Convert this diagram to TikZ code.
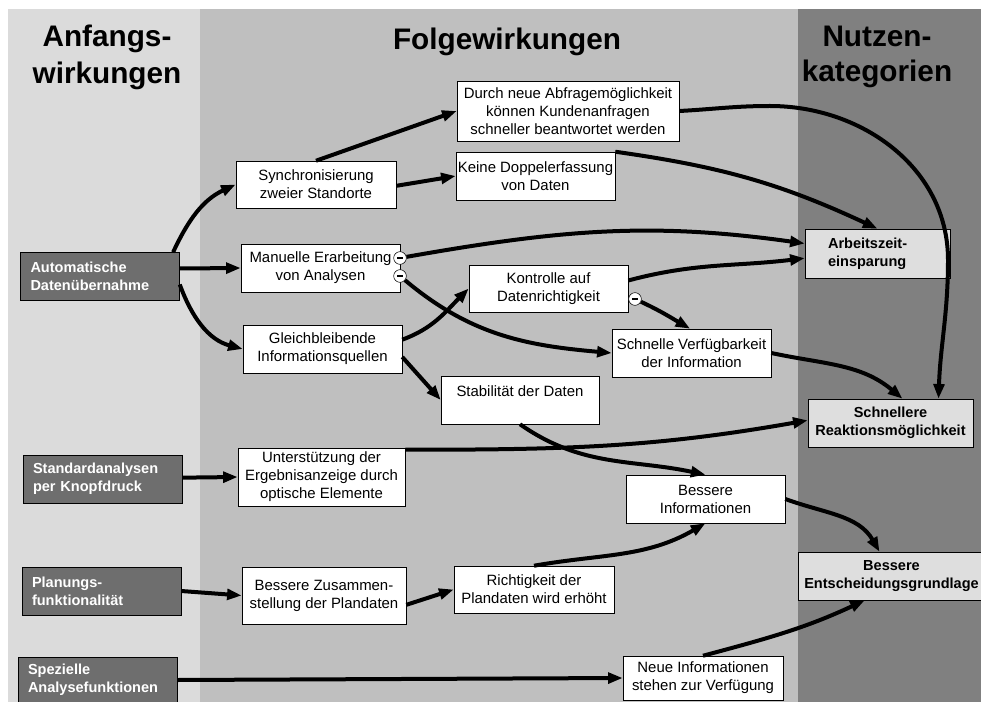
\documentclass[tikz,border=0pt]{standalone}
\usepackage{fontspec}
\setmainfont{Liberation Sans}
\usetikzlibrary{arrows.meta}
\definecolor{leftcol}{gray}{0.86}
\definecolor{midcol}{gray}{0.75}
\definecolor{rightcol}{gray}{0.5}
\definecolor{startbox}{gray}{0.43}
\definecolor{goalbox}{gray}{0.87}

\begin{document}
\begin{tikzpicture}[
  x=0.75pt, y=0.75pt,
  every node/.append style={font=\fontsize{11.2}{13.5}\selectfont},
  arr/.style={line width=3pt, -{Triangle[length=11pt,width=8pt]}},
  wbox/.style={draw, fill=white, align=center, inner sep=0pt,
    minimum width=119.25pt, minimum height=36pt},
  dbox/.style={draw, fill=startbox, text=white, align=left, inner xsep=7.5pt,
    inner ysep=0pt, text width=104.25pt, minimum height=36pt,
    font=\bfseries\fontsize{10.9}{13.5}\selectfont},
  gbox/.style={draw, fill=goalbox, align=center, inner sep=0pt, minimum height=36pt,
    font=\bfseries\fontsize{10.9}{13.5}\selectfont},
  minuscirc/.style={circle, draw, fill=white, inner sep=0pt, minimum size=9.5pt},
  head/.style={inner sep=0pt, align=center,
    font=\bfseries\fontsize{22.3}{27.75}\selectfont},
]
  \useasboundingbox (0,0) rectangle (981,-702);
  % columns
  \fill[white] (0,0) rectangle (981,-702);
  \fill[leftcol] (8,-9) rectangle (200,-702);
  \fill[midcol] (200,-9) rectangle (798,-702);
  \fill[rightcol] (798,-9) rectangle (981,-702);

  \node[head, anchor=north] (tstart) at (107,-25) {Anfangs-\\wirkungen};
  \node[head, anchor=base] (tfollow) at (507,-50) {Folgewirkungen};
  \node[head, anchor=north, font=\bfseries\fontsize{22.3}{26}\selectfont]
    (tbenefit) at (877,-26) {Nutzen-\\kategorien};

  % Anfangswirkungen
  \node[dbox] (auto) at (100,-276.5) {Automatische\\Datenübernahme};
  \node[dbox] (stand) at (102.5,-479) {Standardanalysen\\per Knopfdruck};
  \node[dbox] (plan) at (101.5,-591) {Planungs-\\funktionalität};
  \node[dbox, minimum height=34.5pt] (spez) at (97.5,-680) {Spezielle\\Analysefunktionen};

  % Folgewirkungen
  \node[wbox, minimum width=120pt, minimum height=35.25pt] (sync) at (316,-184.5)
    {Synchronisierung\\zweier Standorte};
  \node[wbox] (manu) at (320.5,-268) {Manuelle Erarbeitung\\von Analysen};
  \node[wbox] (gleich) at (322.5,-349) {Gleichbleibende\\Informationsquellen};
  \node[wbox, minimum width=125.25pt, minimum height=43.5pt] (unter) at (321.5,-477)
    {Unterstützung der\\Ergebnisanzeige durch\\optische Elemente};
  \node[wbox, minimum width=123pt, minimum height=42.75pt] (bzus) at (324,-595.5)
    {Bessere Zusammen-\\stellung der Plandaten};
  \node[wbox, minimum width=166.5pt, minimum height=45pt] (durch) at (568,-111)
    {Durch neue Abfragemöglichkeit\\können Kundenanfragen\\schneller beantwortet werden};
  \node[wbox] (keine) at (535.5,-176) {Keine Doppelerfassung\\von Daten};
  \node[wbox, minimum height=35.25pt] (kontr) at (548.5,-288.5)
    {Kontrolle auf\\Datenrichtigkeit};
  \node[wbox] (schnv) at (691.5,-353) {Schnelle Verfügbarkeit\\der Information};
  \node[wbox, minimum width=118.5pt] (stab) at (520,-400) {Stabilität der Daten\\\mbox{}};
  \node[wbox] (bessI) at (705.5,-499) {Bessere\\Informationen};
  \node[wbox, minimum width=120pt, minimum height=35.25pt] (richt) at (534,-589.5)
    {Richtigkeit der\\Plandaten wird erhöht};
  \node[wbox, minimum width=120pt, minimum height=33pt] (neue) at (703,-678)
    {Neue Informationen\\stehen zur Verfügung};

  % Nutzenkategorien
  \node[gbox, align=left, inner xsep=17.25pt, text width=74.25pt, minimum height=36.75pt]
    (arb) at (877.5,-253.5) {Arbeitszeit-\\einsparung};
  \node[gbox, minimum width=123.75pt] (schnR) at (890.5,-423)
    {Schnellere\\Reaktionsmöglichkeit};
  \node[gbox, minimum width=140.25pt] (entsch) at (891.5,-576)
    {Bessere\\Entscheidungsgrundlage};

  \node[minuscirc] (m1) at (400,-258) {\rule{4pt}{1.3pt}};
  \node[minuscirc] (m2) at (400,-276) {\rule{4pt}{1.3pt}};
  \node[minuscirc] (m3) at (635,-299) {\rule{4pt}{1.3pt}};

  \coordinate (w1) at (770,-106);
  \coordinate (w2) at (948,-260);

  \draw[arr] ([xshift=-5pt]auto.north east) to[out=65,in=205] (sync.west);
  \draw[arr] ([yshift=6pt]auto.east) -- (manu.west);
  \draw[arr] ([yshift=-6pt]auto.east) to[out=-70,in=165] (gleich.west);
  \draw[arr] (sync.north) -- (durch.west);
  \draw[arr] ([yshift=-1pt]sync.east) -- (keine.west);
  \draw[arr] (durch.east) to[out=3,in=180] (w1) to[out=0,in=90] (w2)
    to[out=-90,in=88] ([xshift=36pt]schnR.north);
  \draw[arr] (keine.north east) to[out=-8,in=155] (arb.north);
  \draw[arr] (m1) to[out=10,in=172] ([yshift=7.5pt]arb.west);
  \draw[arr] (m2) to[out=-40,in=175] (schnv.west);
  \draw[arr] ([yshift=7pt]gleich.east) to[out=20,in=225] (kontr.west);
  \draw[arr] ([yshift=-6pt]gleich.east) -- (stab.west);
  \draw[arr] ([yshift=6pt]kontr.east) to[out=15,in=187] ([yshift=-3.5pt]arb.west);
  \draw[arr] (m3) to[out=-25,in=150] ([xshift=-1pt]schnv.north);
  \draw[arr] (schnv.east) to[out=-12,in=140] ([xshift=9pt]schnR.north);
  \draw[arr] (stab.south) to[out=-35,in=168] (bessI.north);
  \draw[arr] ([yshift=-1.5pt]unter.north east) to[out=0,in=190] ([yshift=2pt]schnR.west);
  \draw[arr] ([yshift=1pt]stand.east) -- (unter.west);
  \draw[arr] (plan.east) -- (bzus.west);
  \draw[arr] ([yshift=-7pt]bzus.east) -- (richt.west);
  \draw[arr] (richt.north) to[out=10,in=210] (bessI.south);
  \draw[arr] (bessI.east) to[out=-20,in=120] ([xshift=-9pt]entsch.north);
  \draw[arr] (spez.east) -- (neue.west);
  \draw[arr] (neue.north) to[out=15,in=205] ([xshift=-20pt]entsch.south);
\end{tikzpicture}
\end{document}
